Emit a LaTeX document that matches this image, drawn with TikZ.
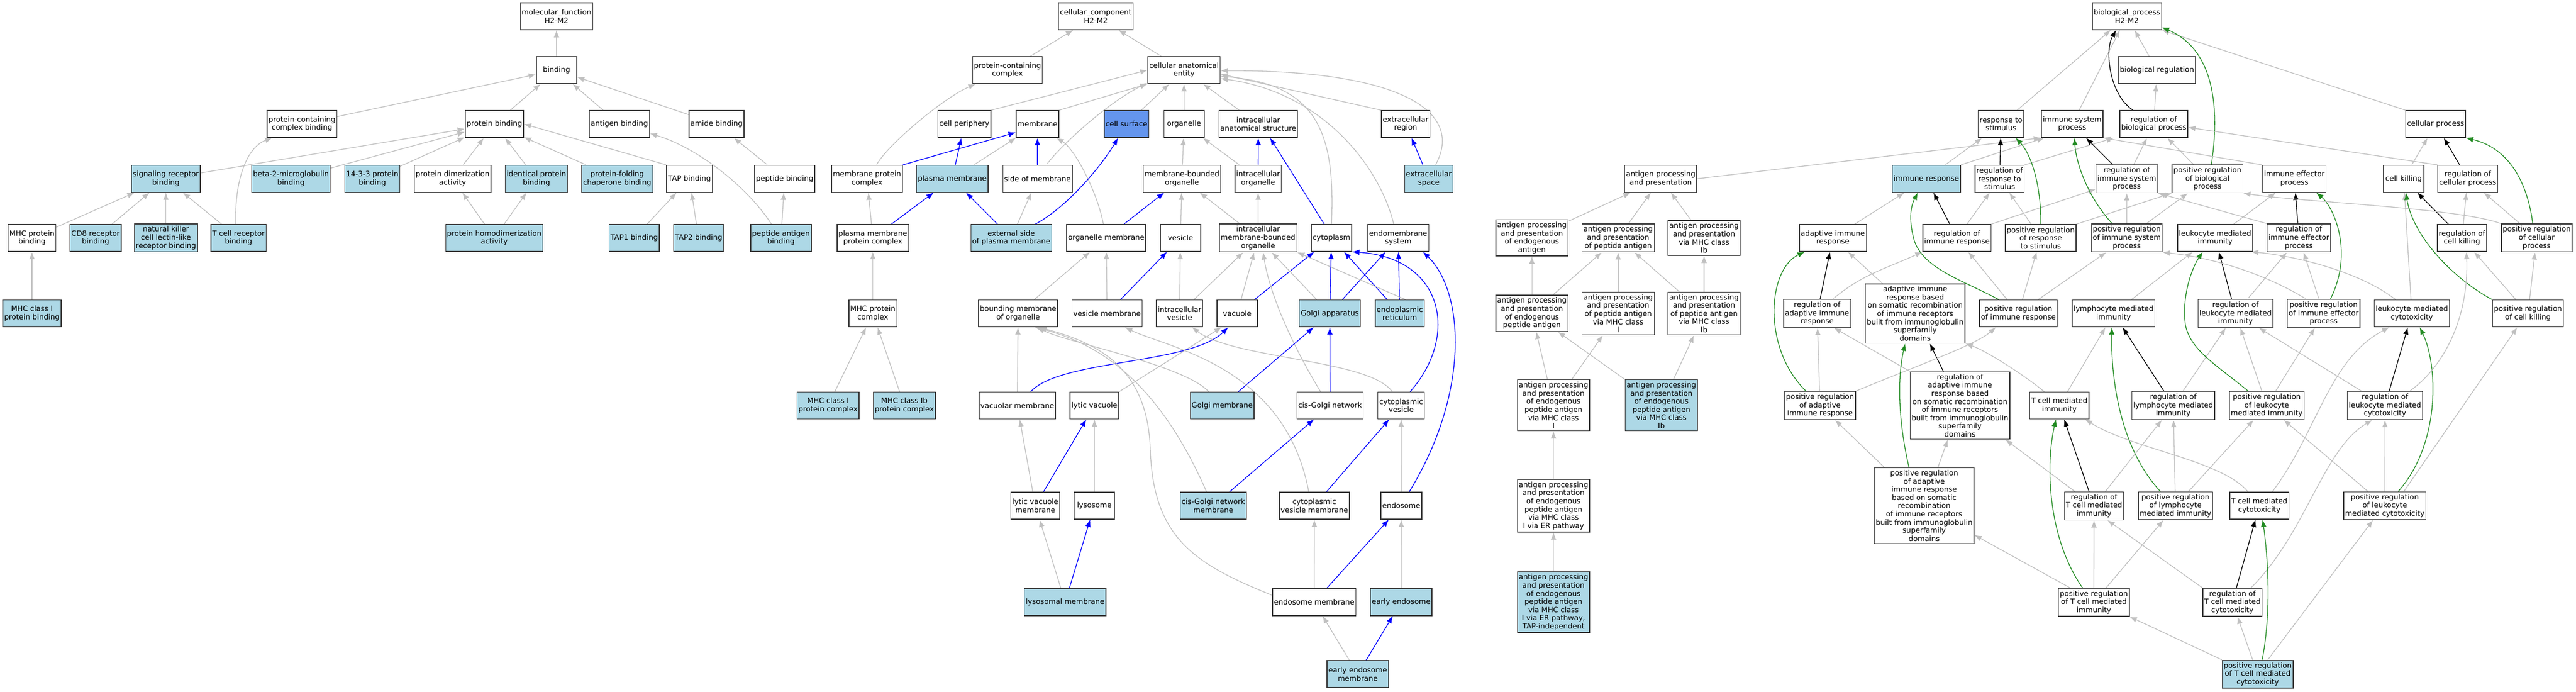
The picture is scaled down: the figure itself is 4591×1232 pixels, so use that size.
\documentclass[tikz,border=0pt]{standalone}
\usepackage{fontspec}
\setmainfont{DejaVu Sans}
\usetikzlibrary{arrows.meta,backgrounds}
\definecolor{hitblue}{HTML}{ADD8E6}
\definecolor{selblue}{HTML}{6495ED}
\definecolor{edgegray}{HTML}{C0C0C0}
\definecolor{posgreen}{HTML}{228B22}

\begin{document}
\begin{tikzpicture}[
        x=1pt, y=-1pt, % координаты в пикселях
        term/.style={rectangle, draw=black!78, line width=1.4pt, fill=white, align=center,
            font=\fontsize{13}{14.6}\selectfont, inner xsep=2.5pt, inner ysep=4pt,
            minimum width=72pt, minimum height=48pt}, % термин
        hit/.style={term, fill=hitblue}, % отмеченный термин
        sel/.style={term, fill=selblue},
        isa/.style={draw=edgegray, line width=1.3pt, -{Latex[length=13pt, width=10pt]}}, % is_a
        part/.style={isa, draw=blue}, % part_of
        negreg/.style={isa, draw=black}, % regulates
        posreg/.style={isa, draw=posgreen}, % positively regulates
    ]
    \useasboundingbox (0,0) rectangle (4591,1232);

    % molecular function
    \node[term] (mf) at (991.8,29) {molecular\_function\\H2-M2};
    \node[term] (bind) at (991.8,125) {binding};
    \node[term] (pccb) at (538.2,221) {protein-containing\\complex binding};
    \node[term] (pb) at (881.1,221) {protein binding};
    \node[term] (agb) at (1103.8,221) {antigen binding};
    \node[term] (amb) at (1277.1,221) {amide binding};
    \node[hit] (srb) at (295.7,318.5) {signaling receptor\\binding};
    \node[hit] (btm) at (518.6,318.5) {beta-2-microglobulin\\binding};
    \node[hit] (ftt) at (663.6,318.5) {14-3-3 protein\\binding};
    \node[term] (pda) at (806.6,318.5) {protein dimerization\\activity};
    \node[hit] (ipb) at (956,318.5) {identical protein\\binding};
    \node[hit] (pfcb) at (1100,318.5) {protein-folding\\chaperone binding};
    \node[term] (tapb) at (1228.8,318.5) {TAP binding};
    \node[term] (pepb) at (1398.5,318.5) {peptide binding};
    \node[term] (mhcpb) at (57,423.9) {MHC protein\\binding};
    \node[hit] (cdb) at (170.4,423.9) {CD8 receptor\\binding};
    \node[hit] (nkb) at (295.7,423.9) {natural killer\\cell lectin-like\\receptor binding};
    \node[hit] (tcrb) at (425.1,423.9) {T cell receptor\\binding};
    \node[hit] (phda) at (880.9,423.9) {protein homodimerization\\activity};
    \node[hit] (tapa) at (1130.3,423.9) {TAP1 binding};
    \node[hit] (tapc) at (1245,423.9) {TAP2 binding};
    \node[hit] (pab) at (1391.8,423.9) {peptide antigen\\binding};
    \node[hit] (mhcib) at (57,558.5) {MHC class I\\protein binding};

    % cellular component
    \node[term] (cc) at (1953,29) {cellular\_component\\H2-M2};
    \node[term] (pcc) at (1795.6,125) {protein-containing\\complex};
    \node[term] (cae) at (2110.2,125) {cellular anatomical\\entity};
    \node[term] (cp) at (1718.7,221) {cell periphery};
    \node[term] (mem) at (1849,221) {membrane};
    \node[sel] (cs) at (2007.7,221) {cell surface};
    \node[term] (org) at (2110.2,221) {organelle};
    \node[term] (ias) at (2242.5,221) {intracellular\\anatomical structure};
    \node[term] (er) at (2505.1,221) {extracellular\\region};
    \node[term] (mpc) at (1545.2,318.5) {membrane protein\\complex};
    \node[hit] (pm) at (1697.1,318.5) {plasma membrane};
    \node[term] (som) at (1849,318.5) {side of membrane};
    \node[term] (mbo) at (2106.5,318.5) {membrane-bounded\\organelle};
    \node[term] (io) at (2242.3,318.5) {intracellular\\organelle};
    \node[hit] (es) at (2546.4,318.5) {extracellular\\space};
    \node[term] (pmpc) at (1555.6,423.9) {plasma membrane\\protein complex};
    \node[hit] (espm) at (1802.3,423.9) {external side\\of plasma membrane};
    \node[term] (om) at (1971.5,423.9) {organelle membrane};
    \node[term] (ves) at (2103.8,423.9) {vesicle};
    \node[term] (imbo) at (2242.2,423.9) {intracellular\\membrane-bounded\\organelle};
    \node[term] (cyt) at (2373,423.9) {cytoplasm};
    \node[term] (ems) at (2491.9,423.9) {endomembrane\\system};
    \node[term] (mhcpc) at (1555.6,558.5) {MHC protein\\complex};
    \node[term] (bmo) at (1814.5,558.5) {bounding membrane\\of organelle};
    \node[term] (vm) at (1973,558.5) {vesicle membrane};
    \node[term] (iv) at (2102.3,558.5) {intracellular\\vesicle};
    \node[term] (vac) at (2205,558.5) {vacuole};
    \node[hit] (ga) at (2370,558.5) {Golgi apparatus};
    \node[hit] (erq) at (2494.7,558.5) {endoplasmic\\reticulum};
    \node[hit] (mhcic) at (1475.8,722.5) {MHC class I\\protein complex};
    \node[hit] (mhcibc) at (1611.7,722.5) {MHC class Ib\\protein complex};
    \node[term] (vacm) at (1813,722.5) {vacuolar membrane};
    \node[term] (lv) at (1950.5,722.5) {lytic vacuole};
    \node[hit] (gm) at (2178.1,722.5) {Golgi membrane};
    \node[term] (cgn) at (2370.5,722.5) {cis-Golgi network};
    \node[term] (cv) at (2497.2,722.5) {cytoplasmic\\vesicle};
    \node[term] (lvm) at (1845.1,901.1) {lytic vacuole\\membrane};
    \node[term] (lys) at (1950.3,901.1) {lysosome};
    \node[hit] (cgnm) at (2162.4,901.1) {cis-Golgi network\\membrane};
    \node[term] (cvm) at (2342.5,901.1) {cytoplasmic\\vesicle membrane};
    \node[term] (endo) at (2497.4,901.1) {endosome};
    \node[hit] (lysm) at (1898.3,1072.8) {lysosomal membrane};
    \node[term] (em) at (2342.2,1072.8) {endosome membrane};
    \node[hit] (ee) at (2497.2,1072.8) {early endosome};
    \node[hit] (eem) at (2419.8,1201) {early endosome\\membrane};

    % antigen processing
    \node[term] (app) at (2959.8,318.5) {antigen processing\\and presentation};
    \node[term] (apea) at (2730.2,423.9) {antigen processing\\and presentation\\of endogenous\\antigen};
    \node[term] (appa) at (2883.9,423.9) {antigen processing\\and presentation\\of peptide antigen};
    \node[term] (apib) at (3037,423.9) {antigen processing\\and presentation\\via MHC class\\Ib};
    \node[term] (apepa) at (2730.2,558.3) {antigen processing\\and presentation\\of endogenous\\peptide antigen};
    \node[term] (appai) at (2883.9,558.5) {antigen processing\\and presentation\\of peptide antigen\\via MHC class\\I};
    \node[term] (appaib) at (3037,558.5) {antigen processing\\and presentation\\of peptide antigen\\via MHC class\\Ib};
    \node[term] (apepai) at (2768.7,722.2) {antigen processing\\and presentation\\of endogenous\\peptide antigen\\via MHC class\\I};
    \node[hit] (apepaib) at (2961,722.2) {antigen processing\\and presentation\\of endogenous\\peptide antigen\\via MHC class\\Ib};
    \node[term] (apepaier) at (2768.7,901.1) {antigen processing\\and presentation\\of endogenous\\peptide antigen\\via MHC class\\I via ER pathway};
    \node[hit] (apepait) at (2768.7,1073) {antigen processing\\and presentation\\of endogenous\\peptide antigen\\via MHC class\\I via ER pathway,\\TAP-independent};

    % biological process
    \node[term] (bp) at (3790.5,29) {biological\_process\\H2-M2};
    \node[term] (br) at (3844.1,125) {biological regulation};
    \node[term] (rts) at (3566.3,221) {response to\\stimulus};
    \node[term] (isp) at (3693,221) {immune system\\process};
    \node[term] (rbp) at (3838.5,221) {regulation of\\biological process};
    \node[term] (cellp) at (4340.8,221) {cellular process};
    \node[hit] (ir) at (3433,318.5) {immune response};
    \node[term] (rrts) at (3563.8,318.5) {regulation of\\response to\\stimulus};
    \node[term] (risp) at (3790.4,318.5) {regulation of\\immune system\\process};
    \node[term] (prbp) at (3934.2,318.5) {positive regulation\\of biological\\process};
    \node[term] (iep) at (4089,318.5) {immune effector\\process};
    \node[term] (ck) at (4283.8,318.5) {cell killing};
    \node[term] (rcp) at (4398,318.5) {regulation of\\cellular process};
    \node[term] (air) at (3266.5,423.9) {adaptive immune\\response};
    \node[term] (rir) at (3487.7,423.9) {regulation of\\immune response};
    \node[term] (prrts) at (3637,423.9) {positive regulation\\of response\\to stimulus};
    \node[term] (prisp) at (3790.3,423.9) {positive regulation\\of immune system\\process};
    \node[term] (lmim) at (3947.8,423.9) {leukocyte mediated\\immunity};
    \node[term] (riep) at (4097.1,423.9) {regulation of\\immune effector\\process};
    \node[term] (rck) at (4387.7,423.9) {regulation of\\cell killing};
    \node[term] (prcp) at (4520.9,423.9) {positive regulation\\of cellular\\process};
    \node[term] (rair) at (3238.5,558.5) {regulation of\\adaptive immune\\response};
    \node[term] (airsr) at (3413.3,558.7) {adaptive immune\\response based\\on somatic recombination\\of immune receptors\\built from immunoglobulin\\superfamily\\domains};
    \node[term] (prir) at (3597.1,558.5) {positive regulation\\of immune response};
    \node[term] (lmi) at (3766.8,558.5) {lymphocyte mediated\\immunity};
    \node[term] (rlmi) at (3984.1,558.5) {regulation of\\leukocyte mediated\\immunity};
    \node[term] (priep) at (4141.2,558.5) {positive regulation\\of immune effector\\process};
    \node[term] (lmc) at (4298.4,558.5) {leukocyte mediated\\cytotoxicity};
    \node[term] (prck) at (4505.3,558.5) {positive regulation\\of cell killing};
    \node[term] (prair) at (3243.7,722.5) {positive regulation\\of adaptive\\immune response};
    \node[term] (rairsr) at (3493.1,722.5) {regulation of\\adaptive immune\\response based\\on somatic recombination\\of immune receptors\\built from immunoglobulin\\superfamily\\domains};
    \node[term] (tcmi) at (3670.2,722.5) {T cell mediated\\immunity};
    \node[term] (rlymi) at (3873.2,722.5) {regulation of\\lymphocyte mediated\\immunity};
    \node[term] (prlmi) at (4039.8,722.5) {positive regulation\\of leukocyte\\mediated immunity};
    \node[term] (rlmc) at (4250.5,722.5) {regulation of\\leukocyte mediated\\cytotoxicity};
    \node[term] (prairsr) at (3429.3,901.1) {positive regulation\\of adaptive\\immune response\\based on somatic\\recombination\\of immune receptors\\built from immunoglobulin\\superfamily\\domains};
    \node[term] (rtcmi) at (3732,901.3) {regulation of\\T cell mediated\\immunity};
    \node[term] (prlymi) at (3877.2,901.1) {positive regulation\\of lymphocyte\\mediated immunity};
    \node[term] (tcmc) at (4026.5,901.1) {T cell mediated\\cytotoxicity};
    \node[term] (prlmc) at (4250.2,901.1) {positive regulation\\of leukocyte\\mediated cytotoxicity};
    \node[term] (prtcmi) at (3731.7,1073.2) {positive regulation\\of T cell mediated\\immunity};
    \node[term] (rtcmc) at (3978.6,1073) {regulation of\\T cell mediated\\cytotoxicity};
    \node[hit] (prtcmc) at (4023.7,1201.2) {positive regulation\\of T cell mediated\\cytotoxicity};

    \begin{scope}[on background layer]
    \fill[white] (0,0) rectangle (4591,1232);

    % связи molecular function
    \draw[isa] (bind) -- (mf);
    \draw[isa] (pccb) -- (bind);
    \draw[isa] (pb) -- (bind);
    \draw[isa] (agb) -- (bind);
    \draw[isa] (amb) -- (bind);
    \draw[isa] (srb) -- (pb);
    \draw[isa] (btm) -- (pb);
    \draw[isa] (ftt) -- (pb);
    \draw[isa] (pda) -- (pb);
    \draw[isa] (ipb) -- (pb);
    \draw[isa] (pfcb) -- (pb);
    \draw[isa] (tapb.north west) -- (pb.east);
    \draw[isa] (mhcpb) -- (srb);
    \draw[isa] (cdb) -- (srb);
    \draw[isa] (nkb) -- (srb);
    \draw[isa] (tcrb) -- (srb);
    \draw[isa] ([xshift=-5pt]tcrb.north) .. controls (418,320) and (440,262) .. ([xshift=10pt]pccb.south west);
    \draw[isa] (mhcib) -- (mhcpb);
    \draw[isa] (phda) -- (pda);
    \draw[isa] (phda) -- (ipb);
    \draw[isa] (tapa) -- (tapb);
    \draw[isa] (tapc) -- (tapb);
    \draw[isa] (pab) -- (pepb);
    \draw[isa] ([xshift=-17pt]pab.north) .. controls (1330,330) and (1240,262) .. ([yshift=8pt]agb.south east);
    \draw[isa] (pepb) -- (amb);

    % связи cellular component
    \draw[isa] (pcc) -- (cc);
    \draw[isa] (cae) -- (cc);
    \draw[isa] (cp.north east) -- (cae.west);
    \draw[isa] (mem.north east) -- (cae.south west);
    \draw[isa] ([xshift=16pt]som.north) .. controls (1885,265) and (1970,185) .. ([yshift=2pt]cae.south west);
    \draw[isa] (cs) -- (cae);
    \draw[isa] (org) -- (cae);
    \draw[isa] (ias) -- (cae);
    \draw[isa] (er.north west) -- ([yshift=-7pt]cae.east);
    \draw[isa] ([xshift=12pt]es.north) .. controls (2610,200) and (2500,125) .. ([yshift=-1pt]cae.east);
    \draw[isa] (cyt.north) .. controls (2380,240) and (2350,150) .. ([yshift=-11pt]cae.east);
    \draw[isa] ([xshift=-8pt]ems.north) .. controls (2460,300) and (2360,165) .. ([yshift=-15pt]cae.east);
    \draw[isa] ([xshift=17pt]mpc.north) .. controls (1580,260) and (1680,175) .. ([xshift=6pt]pcc.south west);
    \draw[part] (mpc.north east) -- ([yshift=-15pt]mem.west);
    \draw[part] (pm) -- (cp);
    \draw[isa] (pm) -- (mem);
    \draw[part] (som) -- (mem);
    \draw[isa] ([xshift=-5pt]om.north) .. controls (1955,340) and (1915,265) .. ([xshift=-5pt]mem.south east);
    \draw[isa] (pmpc) -- (mpc);
    \draw[part] (pmpc) -- (pm);
    \draw[part] (espm) -- (pm);
    \draw[isa] (espm) -- (som);
    \draw[part] ([xshift=43pt]espm.north) .. controls (1900,370) and (1960,300) .. ([xshift=-15pt]cs.south);
    \draw[isa] (mbo) -- (org);
    \draw[isa] (io) -- (org);
    \draw[part] (io) -- (ias);
    \draw[part] ([xshift=-13pt]cyt.north) -- ([xshift=21pt]ias.south);
    \draw[part] (om) -- (mbo);
    \draw[isa] (ves) -- (mbo);
    \draw[isa] (imbo) -- (mbo);
    \draw[isa] (imbo) -- (io);
    \draw[part] (es) -- (er);
    \draw[isa] (mhcpc) -- (pmpc);
    \draw[isa] (mhcic) -- (mhcpc);
    \draw[isa] (mhcibc) -- (mhcpc);
    \draw[isa] (bmo) -- (om);
    \draw[isa] (vm) -- (om);
    \draw[part] (vm) -- (ves);
    \draw[isa] (iv) -- (ves);
    \draw[isa] (iv) -- (imbo);
    \draw[isa] (vac) -- (imbo);
    \draw[part] (vac) -- (cyt);
    \draw[isa] (ga) -- (imbo);
    \draw[part] (ga) -- (cyt);
    \draw[part] (ga) -- (ems);
    \draw[part] (erq) -- (cyt);
    \draw[part] (erq) -- (ems);
    \draw[isa] ([xshift=10pt]erq.north) -- (imbo.south east);
    \draw[isa] ([xshift=-17pt]cgn.north) .. controls (2300,610) and (2262,520) .. ([xshift=9pt]imbo.south);
    \draw[isa] (lv.north east) -- ([xshift=-28pt]vac.south);
    \draw[isa] (vacm) -- (bmo);
    \draw[part] ([xshift=24pt]vacm.north) .. controls (1890,640) and (2120,650) .. ([xshift=-16pt]vac.south);
    \draw[isa] (lvm) -- (vacm);
    \draw[part] (lvm) -- (lv);
    \draw[isa] (lys) -- (lv);
    \draw[isa] (lysm) -- (lvm);
    \draw[part] (lysm) -- (lys);
    \draw[isa] ([xshift=-24pt]gm.north) .. controls (2110,650) and (1900,610) .. ([xshift=34pt]bmo.south);
    \draw[part] (gm) -- (ga);
    \draw[isa] ([xshift=-12pt]cgnm.north) .. controls (2060,670) and (1950,610) .. ([xshift=30pt]bmo.south);
    \draw[part] (cgnm) -- (cgn);
    \draw[part] (cgn) -- (ga);
    \draw[isa] ([xshift=-16pt]cv.north) .. controls (2440,640) and (2200,640) .. ([xshift=22pt]iv.south);
    \draw[isa] ([xshift=-10pt]cvm.north) .. controls (2290,650) and (2080,620) .. ([xshift=32pt]vm.south);
    \draw[part] (cvm) -- (cv);
    \draw[isa] (endo) -- (cv);
    \draw[part] ([xshift=16pt]cv.north) .. controls (2600,600) and (2575,460) .. (cyt.south east);
    \draw[part] ([xshift=14pt]endo.north) .. controls (2620,700) and (2610,520) .. ([xshift=44pt]ems.south);
    \draw[isa] (em) -- (cvm);
    \draw[part] (em) -- (endo);
    \draw[isa] ([yshift=12pt]em.west) .. controls (2130,1005) and (2055,960) .. (2050,800)
        .. controls (2045,650) and (1950,610) .. ([xshift=38pt]bmo.south);
    \draw[isa] (ee) -- (endo);
    \draw[isa] (eem) -- (em);
    \draw[part] (eem) -- (ee);

    % связи antigen processing
    \draw[isa] (apea) -- (app);
    \draw[isa] (appa) -- (app);
    \draw[isa] (apib) -- (app);
    \draw[isa] (apepa) -- (apea);
    \draw[isa] (apepa) -- (appa);
    \draw[isa] (appai) -- (appa);
    \draw[isa] (appaib) -- (appa);
    \draw[isa] (appaib) -- (apib);
    \draw[isa] (apepai) -- (apepa);
    \draw[isa] (apepai) -- (appai);
    \draw[isa] (apepaib) -- (apepa);
    \draw[isa] (apepaib) -- (appaib);
    \draw[isa] (apepaier) -- (apepai);
    \draw[isa] (apepait) -- (apepaier);
    \draw[isa] (app.east) -- (isp.south west);

    % связи biological process
    \draw[isa] (rts) -- (bp);
    \draw[isa] (isp) -- (bp);
    \draw[negreg] ([xshift=-37pt]rbp.north) .. controls (3760,170) and (3750,90) .. ([xshift=-19pt]bp.south);
    \draw[isa] (br) -- (bp);
    \draw[isa] (cellp.north west) -- (bp.south east);
    \draw[posreg] ([xshift=7pt]prbp.north) .. controls (3955,200) and (3950,90) .. ([yshift=5pt]bp.south east);
    \draw[isa] (rbp) -- (br);
    \draw[isa] (ir) -- (rts);
    \draw[isa] (ir.north east) -- ([xshift=6pt]isp.south west);
    \draw[negreg] (rrts) -- (rts);
    \draw[isa] (rrts.north east) -- ([xshift=-10pt]rbp.south west);
    \draw[isa] (iep.north west) -- (isp.south east);
    \draw[negreg] (risp) -- (isp);
    \draw[isa] (risp) -- (rbp);
    \draw[isa] (prbp) -- (rbp);
    \draw[isa] (ck) -- (cellp);
    \draw[negreg] (rcp) -- (cellp);
    \draw[isa] (rcp.north west) -- ([yshift=-6pt]rbp.east);
    \draw[isa] (air) -- (ir);
    \draw[negreg] (rir) -- (ir);
    \draw[isa] (rir) -- (rrts);
    \draw[isa] (rir.north east) -- ([yshift=7pt]risp.south west);
    \draw[isa] (prrts) -- (rrts);
    \draw[posreg] (prrts.north) .. controls (3638,330) and (3620,275) .. ([xshift=26pt]rts.south);
    \draw[isa] (prrts.north east) -- (prbp.south west);
    \draw[isa] (prisp) -- (risp);
    \draw[posreg] ([xshift=-26pt]prisp.north) .. controls (3720,350) and (3700,290) .. ([xshift=4pt]isp.south);
    \draw[isa] (prisp) -- (prbp);
    \draw[negreg] (rair) -- (air);
    \draw[isa] ([xshift=28pt]rair.north) to[out=40, in=-155] (rir.south west);
    \draw[isa] (airsr) -- (air);
    \draw[posreg] ([xshift=-35pt]prir.north) .. controls (3500,500) and (3430,480) .. (3412,430)
        .. controls (3402,395) and (3404,370) .. ([xshift=-15pt]ir.south);
    \draw[isa] (prir) -- (rir);
    \draw[isa] (prir) -- (prrts);
    \draw[isa] (prir) -- (prisp);
    \draw[isa] ([xshift=32pt]lmi.north) -- ([xshift=-40pt]lmim.south);
    \draw[negreg] (rlmi) -- (lmim);
    \draw[isa] (rlmi) -- (riep);
    \draw[isa] ([xshift=-29pt]lmc.north) .. controls (4200,480) and (4080,455) .. ([xshift=64pt]lmim.south);
    \draw[isa] (lmc) -- (ck);
    \draw[isa] (lmim) -- (iep);
    \draw[negreg] (riep) -- (iep);
    \draw[isa] (riep.north west) -- (risp.south east);
    \draw[posreg] ([xshift=12pt]priep.north) .. controls (4195,450) and (4160,370) .. ([xshift=39pt]iep.south);
    \draw[isa] (priep) -- (riep);
    \draw[isa] ([xshift=-31pt]priep.north) .. controls (4040,490) and (3950,460) .. (prisp.south east);
    \draw[negreg] (rck) -- (ck);
    \draw[isa] (rck) -- (rcp);
    \draw[isa] (prcp) -- (rcp);
    \draw[posreg] ([xshift=-7pt]prcp.north) .. controls (4505,330) and (4475,265) .. (cellp.south east);
    \draw[isa] (prcp.north west) .. controls (4380,370) and (4100,360) .. (prbp.south east);
    \draw[isa] (prck) -- (rck);
    \draw[isa] (prck) -- (prcp);
    \draw[posreg] (prck.north west) .. controls (4370,495) and (4300,420) .. ([xshift=4pt]ck.south);
    \draw[isa] (prlmi) -- (rlmi);
    \draw[isa] (rlymi) -- (rlmi);
    \draw[negreg] (rlymi) -- (lmi);
    \draw[isa] (tcmi) -- (lmi);
    \draw[posreg] ([xshift=-27pt]prlymi.north) .. controls (3780,800) and (3762,680) .. ([xshift=-3pt]lmi.south);
    \draw[isa] (prlymi) -- (rlymi);
    \draw[isa] (prlymi) -- (prlmi);
    \draw[negreg] (rtcmi) -- (tcmi);
    \draw[isa] (rtcmi) -- (rairsr);
    \draw[isa] (rtcmi) -- (rlymi);
    \draw[isa] ([xshift=-27pt]tcmi.north) .. controls (3610,670) and (3540,625) .. (airsr.south east);
    \draw[posreg] ([xshift=-20pt]prtcmi.north) .. controls (3650,960) and (3645,830) .. ([xshift=-6pt]tcmi.south);
    \draw[isa] (prtcmi) -- (rtcmi);
    \draw[isa] ([xshift=-42pt]prtcmi.north) -- ([yshift=16pt]prairsr.south east);
    \draw[isa] (prtcmi) -- (prlymi);
    \draw[negreg] (rairsr) -- (airsr);
    \draw[isa] (rairsr.north west) -- ([xshift=30pt]rair.south);
    \draw[posreg] ([xshift=-25pt]prair.north) .. controls (3140,620) and (3150,480) .. ([xshift=-50pt]air.south);
    \draw[isa] (prair) -- (rair);
    \draw[isa] (prair.north east) .. controls (3420,650) and (3520,615) .. ([xshift=-40pt]prir.south);
    \draw[posreg] ([xshift=-27pt]prairsr.north) .. controls (3385,760) and (3380,680) .. ([xshift=-18pt]airsr.south);
    \draw[isa] (prairsr) -- (rairsr);
    \draw[isa] (prairsr) -- (prair);
    \draw[isa] ([xshift=-20pt]tcmc.north) .. controls (3960,820) and (3800,800) .. ([xshift=46pt]tcmi.south);
    \draw[isa] ([xshift=23pt]tcmc.north) .. controls (4130,770) and (4150,640) .. ([xshift=-40pt]lmc.south);
    \draw[negreg] (rtcmc) -- (tcmc);
    \draw[isa] (rtcmc.north west) -- ([xshift=24pt]rtcmi.south);
    \draw[isa] ([xshift=33pt]rtcmc.north) .. controls (4110,950) and (4140,800) .. ([xshift=-22pt]rlmc.south);
    \draw[isa] (prtcmc) -- (rtcmc);
    \draw[posreg] ([xshift=8pt]prtcmc.north) .. controls (4050,1080) and (4040,980) .. ([xshift=6pt]tcmc.south);
    \draw[isa] (prtcmc.north west) -- (prtcmi.south east);
    \draw[isa] ([xshift=18pt]prtcmc.north) -- ([xshift=-21pt]prlmc.south);
    \draw[isa] (prlmc) -- (rlmc);
    \draw[isa] (prlmc) -- (prlmi);
    \draw[posreg] ([xshift=24pt]prlmc.north) .. controls (4350,790) and (4345,650) .. ([xshift=14pt]lmc.south);
    \draw[isa] ([xshift=34pt]prlmc.north) -- ([xshift=-19pt]prck.south);
    \draw[negreg] (rlmc) -- (lmc);
    \draw[isa] (rlmc) -- (rlmi);
    \draw[isa] ([xshift=44pt]rlmc.north) .. controls (4360,650) and (4400,560) .. ([xshift=8pt]rck.south);
    \draw[posreg] ([xshift=-33pt]prlmi.north) .. controls (3950,650) and (3905,625) .. (3895,580)
        .. controls (3888,530) and (3905,480) .. ([xshift=-22pt]lmim.south);
    \draw[isa] (prlmi) -- (priep);
    \end{scope}
\end{tikzpicture}
\end{document}
